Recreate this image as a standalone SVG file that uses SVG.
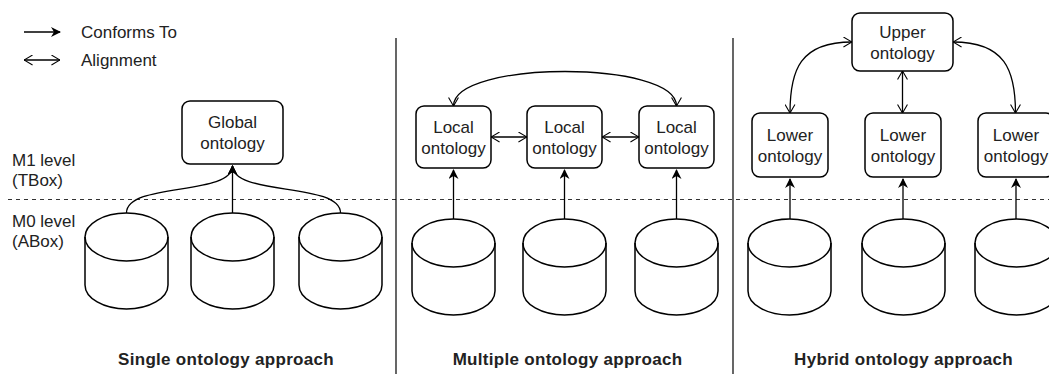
<svg xmlns="http://www.w3.org/2000/svg" width="1049" height="374" viewBox="0 0 1049 374">
<defs>
<marker id="filled" viewBox="0 0 10 10" refX="9" refY="5" markerWidth="10" markerHeight="10" markerUnits="userSpaceOnUse" orient="auto">
<path d="M0,0 L10,5 L0,10 L3,5 Z" fill="#000"/>
</marker>
<marker id="open" viewBox="0 0 10 12" refX="9.5" refY="6" markerWidth="9" markerHeight="11" markerUnits="userSpaceOnUse" orient="auto-start-reverse">
<path d="M0,0.5 L9.5,6 L0,11.5" fill="none" stroke="#000" stroke-width="1.2"/>
</marker>
<g id="cyl">
<path d="M0,24 A41.5,24 0 0 1 83,24 L83,72 A41.5,24 0 0 1 0,72 Z" fill="#fff" stroke="#000" stroke-width="1.5"/>
<path d="M0,24 A41.5,24 0 0 0 83,24" fill="none" stroke="#000" stroke-width="1.5"/>
</g>
</defs>
<style>
text{font-family:"Liberation Sans",Arial,sans-serif;font-size:17px;fill:#222}
.box{fill:#fff;stroke:#000;stroke-width:1.5}
.t{text-anchor:middle}
.b{font-weight:bold;text-anchor:middle;letter-spacing:0.3px}
.c{fill:none;stroke:#000;stroke-width:1.3}
.f{marker-end:url(#filled)}
.o{marker-start:url(#open);marker-end:url(#open)}
.sep{stroke:#000;stroke-width:1.2}
</style>
<rect width="1049" height="374" fill="#fff"/>

<g id="legend">
<line x1="24" y1="32" x2="60" y2="32" class="c f"/>
<text x="81" y="38">Conforms To</text>
<line x1="24" y1="60" x2="60" y2="60" class="c o"/>
<text x="81" y="66">Alignment</text>
</g>

<g id="levels">
<line x1="8" y1="199.5" x2="1049" y2="199.5" stroke="#333" stroke-width="1.2" stroke-dasharray="4,4"/>
<text x="12" y="166">M1 level</text>
<text x="12" y="186">(TBox)</text>
<text x="12" y="227">M0 level</text>
<text x="12" y="247">(ABox)</text>
<line x1="396" y1="38" x2="396" y2="374" class="sep"/>
<line x1="733" y1="38" x2="733" y2="374" class="sep"/>
</g>

<g id="connectors">
<path d="M126.5,213 C126.5,182 232.5,196 232.5,166" class="c f"/>
<path d="M232.5,213 L232.5,166" class="c f"/>
<path d="M340.5,213 C340.5,182 232.5,196 232.5,166" class="c f"/>

<path d="M453.5,219 L453.5,170" class="c f"/>
<path d="M564.5,219 L564.5,170" class="c f"/>
<path d="M676.5,219 L676.5,170" class="c f"/>
<path d="M491,137 L527,137" class="c o"/>
<path d="M602,137 L639,137" class="c o"/>
<path d="M453.5,106 C453.5,60 676.5,60 676.5,106" class="c o"/>

<path d="M790,219 L790,179" class="c f"/>
<path d="M903,219 L903,179" class="c f"/>
<path d="M1016,219 L1016,179" class="c f"/>
<path d="M852,42 C800,42 790,70 790,113" class="c o"/>
<path d="M902.5,71 L902.5,113" class="c o"/>
<path d="M953,42 C1005,42 1015.5,70 1015.5,113" class="c o"/>
</g>

<g id="global">
<rect x="182" y="101" width="101" height="63" rx="8" class="box"/>
<text x="232.5" y="128" class="t">Global</text>
<text x="232.5" y="149" class="t">ontology</text>
</g>
<g id="local1">
<rect x="416" y="106" width="75" height="62" rx="8" class="box"/>
<text x="453.5" y="133" class="t">Local</text>
<text x="453.5" y="154" class="t">ontology</text>
</g>
<g id="local2">
<rect x="527" y="106" width="75" height="62" rx="8" class="box"/>
<text x="564.5" y="133" class="t">Local</text>
<text x="564.5" y="154" class="t">ontology</text>
</g>
<g id="local3">
<rect x="639" y="106" width="75" height="62" rx="8" class="box"/>
<text x="676.5" y="133" class="t">Local</text>
<text x="676.5" y="154" class="t">ontology</text>
</g>
<g id="upper">
<rect x="852" y="13" width="101" height="58" rx="8" class="box"/>
<text x="902.5" y="38" class="t">Upper</text>
<text x="902.5" y="59" class="t">ontology</text>
</g>
<g id="lower1">
<rect x="752" y="113" width="76" height="64" rx="8" class="box"/>
<text x="790" y="141" class="t">Lower</text>
<text x="790" y="162" class="t">ontology</text>
</g>
<g id="lower2">
<rect x="865" y="113" width="76" height="64" rx="8" class="box"/>
<text x="903" y="141" class="t">Lower</text>
<text x="903" y="162" class="t">ontology</text>
</g>
<g id="lower3">
<rect x="978" y="113" width="76" height="64" rx="8" class="box"/>
<text x="1016" y="141" class="t">Lower</text>
<text x="1016" y="162" class="t">ontology</text>
</g>

<g id="db1"><use href="#cyl" x="85" y="213"/></g>
<g id="db2"><use href="#cyl" x="191" y="213"/></g>
<g id="db3"><use href="#cyl" x="299" y="213"/></g>
<g id="db4"><use href="#cyl" x="412" y="219" transform="translate(0,0)"/></g>
<g id="db5"><use href="#cyl" x="523" y="219"/></g>
<g id="db6"><use href="#cyl" x="635" y="219"/></g>
<g id="db7"><use href="#cyl" x="748" y="219"/></g>
<g id="db8"><use href="#cyl" x="862" y="219"/></g>
<g id="db9"><use href="#cyl" x="975" y="219"/></g>

<g id="labels">
<text x="226" y="365" class="b">Single ontology approach</text>
<text x="567.5" y="365" class="b">Multiple ontology approach</text>
<text x="903.5" y="365" class="b">Hybrid ontology approach</text>
</g>
</svg>
